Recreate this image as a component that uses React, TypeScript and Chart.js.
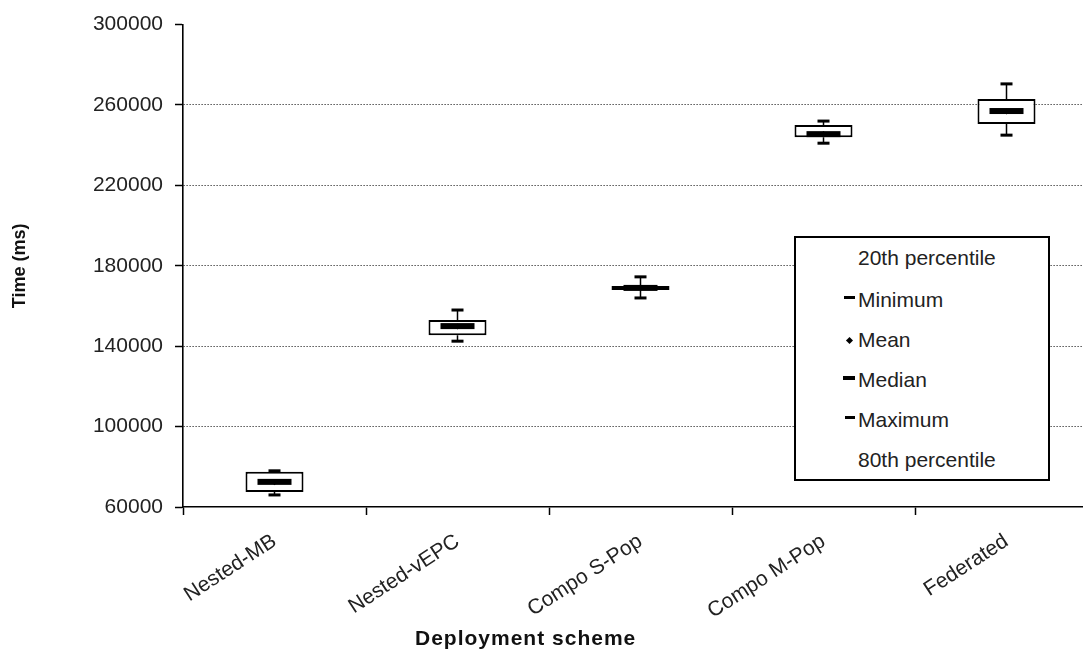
import React, { useEffect, useRef } from "react";
import { Chart, registerables } from "chart.js";

Chart.register(...registerables);

const categories = ["Nested-MB", "Nested-vEPC", "Compo S-Pop", "Compo M-Pop", "Federated"];
const minimum = [66000, 142500, 164000, 241000, 245000];
const percentile20 = [67500, 145500, 168000, 244000, 250500];
const median = [72500, 150000, 169000, 245500, 257000];
const mean = [72300, 149800, 169000, 245600, 256800];
const percentile80 = [77500, 153000, 170000, 250000, 263000];
const maximum = [78000, 158000, 174500, 252000, 270500];
const yTicks = [60000, 100000, 140000, 180000, 220000, 260000, 300000];
const legendItems = ["20th percentile", "Minimum", "Mean", "Median", "Maximum", "80th percentile"];
const xTitle = "Deployment scheme";
const yTitle = "Time (ms)";

const FONT = '"Liberation Sans", Arial, Helvetica, sans-serif';

const whiskerPlugin = {
  id: "whiskers",
  afterDatasetsDraw(chart: any) {
    const { ctx } = chart;
    const x = chart.scales.x;
    const y = chart.scales.y;
    ctx.save();
    ctx.fillStyle = "#000";
    ctx.strokeStyle = "#000";
    categories.forEach((_, i) => {
      const cx = x.getPixelForValue(i);
      const yMin = y.getPixelForValue(minimum[i]);
      const y20 = y.getPixelForValue(percentile20[i]);
      const yMed = y.getPixelForValue(median[i]);
      const yMean = y.getPixelForValue(mean[i]);
      const y80 = y.getPixelForValue(percentile80[i]);
      const yMax = y.getPixelForValue(maximum[i]);
      ctx.lineWidth = 1.5;
      ctx.beginPath();
      ctx.moveTo(cx, y80);
      ctx.lineTo(cx, yMax);
      ctx.moveTo(cx, y20);
      ctx.lineTo(cx, yMin);
      ctx.stroke();
      ctx.fillRect(cx - 6, yMax - 1.5, 12, 3);
      ctx.fillRect(cx - 6, yMin - 1.5, 12, 3);
      ctx.fillRect(cx - 17, yMed - 3, 34, 6);
      ctx.beginPath();
      ctx.moveTo(cx, yMean - 3);
      ctx.lineTo(cx + 3, yMean);
      ctx.lineTo(cx, yMean + 3);
      ctx.lineTo(cx - 3, yMean);
      ctx.closePath();
      ctx.fill();
    });
    ctx.restore();
  },
};

function LegendBox() {
  const rows = [9, 51, 91, 131, 171, 211];
  const marker = (i: number) => {
    if (i === 1) return <div style={{ position: "absolute", left: 48, top: rows[i] + 7, width: 11, height: 3, background: "#000" }} />;
    if (i === 2)
      return (
        <div
          style={{ position: "absolute", left: 51, top: rows[i] + 9, width: 5, height: 5, background: "#000", transform: "rotate(45deg)" }}
        />
      );
    if (i === 3) return <div style={{ position: "absolute", left: 47, top: rows[i] + 7, width: 12, height: 4, background: "#000" }} />;
    if (i === 4) return <div style={{ position: "absolute", left: 49, top: rows[i] + 7, width: 10, height: 3, background: "#000" }} />;
    return null;
  };
  return (
    <div
      style={{
        position: "absolute",
        left: 794,
        top: 236,
        width: 256,
        height: 245,
        boxSizing: "border-box",
        border: "2px solid #000",
        background: "#fff",
      }}
    >
      {legendItems.map((t, i) => (
        <React.Fragment key={t}>
          {marker(i)}
          <div
            style={{
              position: "absolute",
              left: 62,
              top: rows[i],
              fontFamily: FONT,
              fontSize: 21,
              lineHeight: "21px",
              color: "#222",
              whiteSpace: "nowrap",
            }}
          >
            {t}
          </div>
        </React.Fragment>
      ))}
    </div>
  );
}

export default function App() {
  const canvasRef = useRef<HTMLCanvasElement | null>(null);

  useEffect(() => {
    if (!canvasRef.current) return;
    const chart = new Chart(canvasRef.current, {
      type: "bar",
      data: {
        labels: categories,
        datasets: [
          {
            label: "20th-80th percentile",
            data: categories.map((_, i) => [percentile20[i], percentile80[i]]) as any,
            backgroundColor: "#ffffff",
            borderColor: "#000000",
            borderWidth: 2,
            borderSkipped: false,
            barPercentage: 0.317,
            categoryPercentage: 1,
          },
        ],
      },
      options: {
        responsive: false,
        animation: false,
        devicePixelRatio: 1,
        layout: { padding: { top: 22, right: 2, left: 0, bottom: 0 } },
        plugins: { legend: { display: false }, tooltip: { enabled: false } },
        scales: {
          x: {
            type: "category",
            offset: true,
            grid: {
              display: true,
              drawOnChartArea: false,
              drawTicks: true,
              tickLength: 8,
              tickColor: "#000",
              tickWidth: 1.5,
              offset: true,
            },
            border: { display: true, color: "#000", width: 1.6 },
            ticks: {
              color: "#222",
              font: { family: FONT, size: 21 },
              minRotation: 33,
              maxRotation: 33,
              autoSkip: false,
              padding: 14,
            },
            afterFit: (s: any) => {
              s.height = 143;
            },
          },
          y: {
            min: 60000,
            max: 300000,
            afterBuildTicks: (s: any) => {
              s.ticks = yTicks.map((v) => ({ value: v }));
            },
            grid: {
              color: (c: any) =>
                c.tick && (c.tick.value === 60000 || c.tick.value === 300000) ? "rgba(0,0,0,0)" : "#000",
              lineWidth: 1,
              drawTicks: true,
              tickLength: 8,
              tickColor: "#000",
              tickWidth: 1.5,
              tickBorderDash: [],
            },
            border: { display: true, color: "#000", width: 1.6, dash: [1, 2] },
            ticks: {
              color: "#222",
              font: { family: FONT, size: 21 },
              padding: 12,
              callback: (v: any) => String(v),
            },
            title: {
              display: true,
              text: yTitle,
              color: "#111",
              font: { family: FONT, size: 18, weight: "bold" },
              padding: { top: 9, bottom: 0 },
            },
            afterFit: (s: any) => {
              s.width = 183;
            },
          },
        },
      },
      plugins: [whiskerPlugin],
    } as any);
    return () => chart.destroy();
  }, []);

  return (
    <div
      style={{
        position: "absolute",
        left: 0,
        top: 0,
        width: 1083,
        height: 650,
        overflow: "hidden",
        background: "#fff",
      }}
    >
      <canvas ref={canvasRef} width={1100} height={650} style={{ display: "block" }} />
      <LegendBox />
      <div
        style={{
          position: "absolute",
          left: 415,
          top: 627,
          fontFamily: FONT,
          fontWeight: "bold",
          fontSize: 21,
          lineHeight: "21px",
          letterSpacing: 1,
          color: "#111",
          whiteSpace: "nowrap",
        }}
      >
        {xTitle}
      </div>
    </div>
  );
}
